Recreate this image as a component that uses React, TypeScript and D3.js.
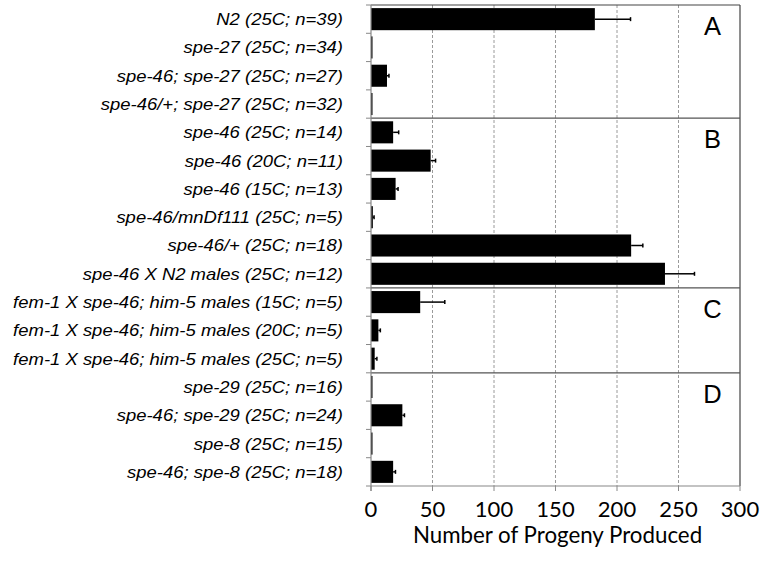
import React from "react";
import * as d3 from "d3";

const categories = [
  "N2 (25C; n=39)",
  "spe-27 (25C; n=34)",
  "spe-46; spe-27 (25C; n=27)",
  "spe-46/+; spe-27 (25C; n=32)",
  "spe-46 (25C; n=14)",
  "spe-46 (20C; n=11)",
  "spe-46 (15C; n=13)",
  "spe-46/mnDf111 (25C; n=5)",
  "spe-46/+ (25C; n=18)",
  "spe-46 X N2 males (25C; n=12)",
  "fem-1 X spe-46; him-5 males (15C; n=5)",
  "fem-1 X spe-46; him-5 males (20C; n=5)",
  "fem-1 X spe-46; him-5 males (25C; n=5)",
  "spe-29 (25C; n=16)",
  "spe-46; spe-29 (25C; n=24)",
  "spe-8 (25C; n=15)",
  "spe-46; spe-8 (25C; n=18)",
];
const values = [182, 0.5, 13, 1, 18, 48.5, 20, 1.5, 211.5, 239, 40, 6, 3, 0.5, 25.5, 1, 18];
const errors = [29, 0, 1.6, 0, 4.5, 4, 2, 1, 9.5, 24, 20, 1.6, 1.8, 0, 1.7, 0, 1.9];
const groupLabels = ["A", "B", "C", "D"];
const groupStarts = [0, 4, 10, 13];
const xTicks = [0, 50, 100, 150, 200, 250, 300];
const xTitle = "Number of Progeny Produced";

export default function App() {
  const W = 763, H = 561;
  const left = 371, right = 740, top = 5, bottom = 486;
  const x = d3.scaleLinear().domain([0, 300]).range([left, right]);
  const y = d3.scaleBand<number>().domain(d3.range(categories.length)).range([top, bottom]).paddingInner(0.22).paddingOuter(0.11);
  const step = y.step();
  const rowTop = (i: number) => top + i * step;
  const axisFont = "Lato, 'Liberation Sans', sans-serif";
  const labelFont = "'Liberation Sans', Arial, sans-serif";
  return (
    <svg width={W} height={H} style={{ position: "absolute", left: 0, top: 0, background: "#fff" }}>
      {xTicks.filter((t) => t > 0 && t < 300).map((t) => (
        <line key={"g" + t} x1={x(t)} x2={x(t)} y1={top} y2={bottom} stroke="#9a9a9a" strokeWidth={1} strokeDasharray="3,2" />
      ))}
      <line x1={left} x2={right} y1={top} y2={top} stroke="#444" strokeWidth={1.2} />
      <line x1={right} x2={right} y1={top} y2={bottom} stroke="#444" strokeWidth={1.2} />
      {groupStarts.slice(1).map((g) => (
        <line key={"s" + g} x1={left} x2={right} y1={rowTop(g)} y2={rowTop(g)} stroke="#555" strokeWidth={1.2} />
      ))}
      {values.map((v, i) => (
        <g key={"b" + i}>
          <rect x={x(0)} y={y(i)!} width={Math.max(x(v) - x(0), 1.5)} height={y.bandwidth()} fill="#000" />
          {errors[i] > 0 && (
            <g stroke="#000" strokeWidth={1.5}>
              <line x1={x(v)} x2={x(v + errors[i])} y1={y(i)! + y.bandwidth() / 2} y2={y(i)! + y.bandwidth() / 2} />
              <line x1={x(v + errors[i])} x2={x(v + errors[i])} y1={y(i)! + y.bandwidth() / 2 - 2} y2={y(i)! + y.bandwidth() / 2 + 2} />
            </g>
          )}
        </g>
      ))}
      <line x1={left} x2={left} y1={top} y2={bottom + 5} stroke="#888" strokeWidth={1.2} />
      {d3.range(categories.length + 1).map((i) => (
        <line key={"yt" + i} x1={left - 5} x2={left} y1={rowTop(i)} y2={rowTop(i)} stroke="#888" strokeWidth={1} />
      ))}
      <line x1={left} x2={right} y1={bottom} y2={bottom} stroke="#888" strokeWidth={1.2} />
      {xTicks.map((t) => (
        <g key={"xt" + t}>
          <line x1={x(t)} x2={x(t)} y1={bottom} y2={bottom + 5} stroke="#888" strokeWidth={1} />
          <text x={x(t)} y={516.5} textAnchor="middle" fontFamily={axisFont} fontSize={22} fill="#000">{t}</text>
        </g>
      ))}
      <text x={(left + right) / 2 + 2} y={543} textAnchor="middle" fontFamily={axisFont} fontSize={22.3} fill="#000">{xTitle}</text>
      {categories.map((c, i) => (
        <g key={"c" + i} transform={`translate(343,${y(i)! + y.bandwidth() / 2}) scale(1.12,1)`}>
          <text x={0} y={0} dy="0.36em" textAnchor="end" fontFamily={labelFont} fontStyle="italic" fontSize={16.5} fill="#000">{c}</text>
        </g>
      ))}
      {groupLabels.map((g, k) => (
        <text key={"L" + g} x={712.5} y={rowTop(groupStarts[k]) + 30} textAnchor="middle" fontFamily="'Liberation Sans', Arial, sans-serif" fontSize={25.5} fill="#000">{g}</text>
      ))}
    </svg>
  );
}
